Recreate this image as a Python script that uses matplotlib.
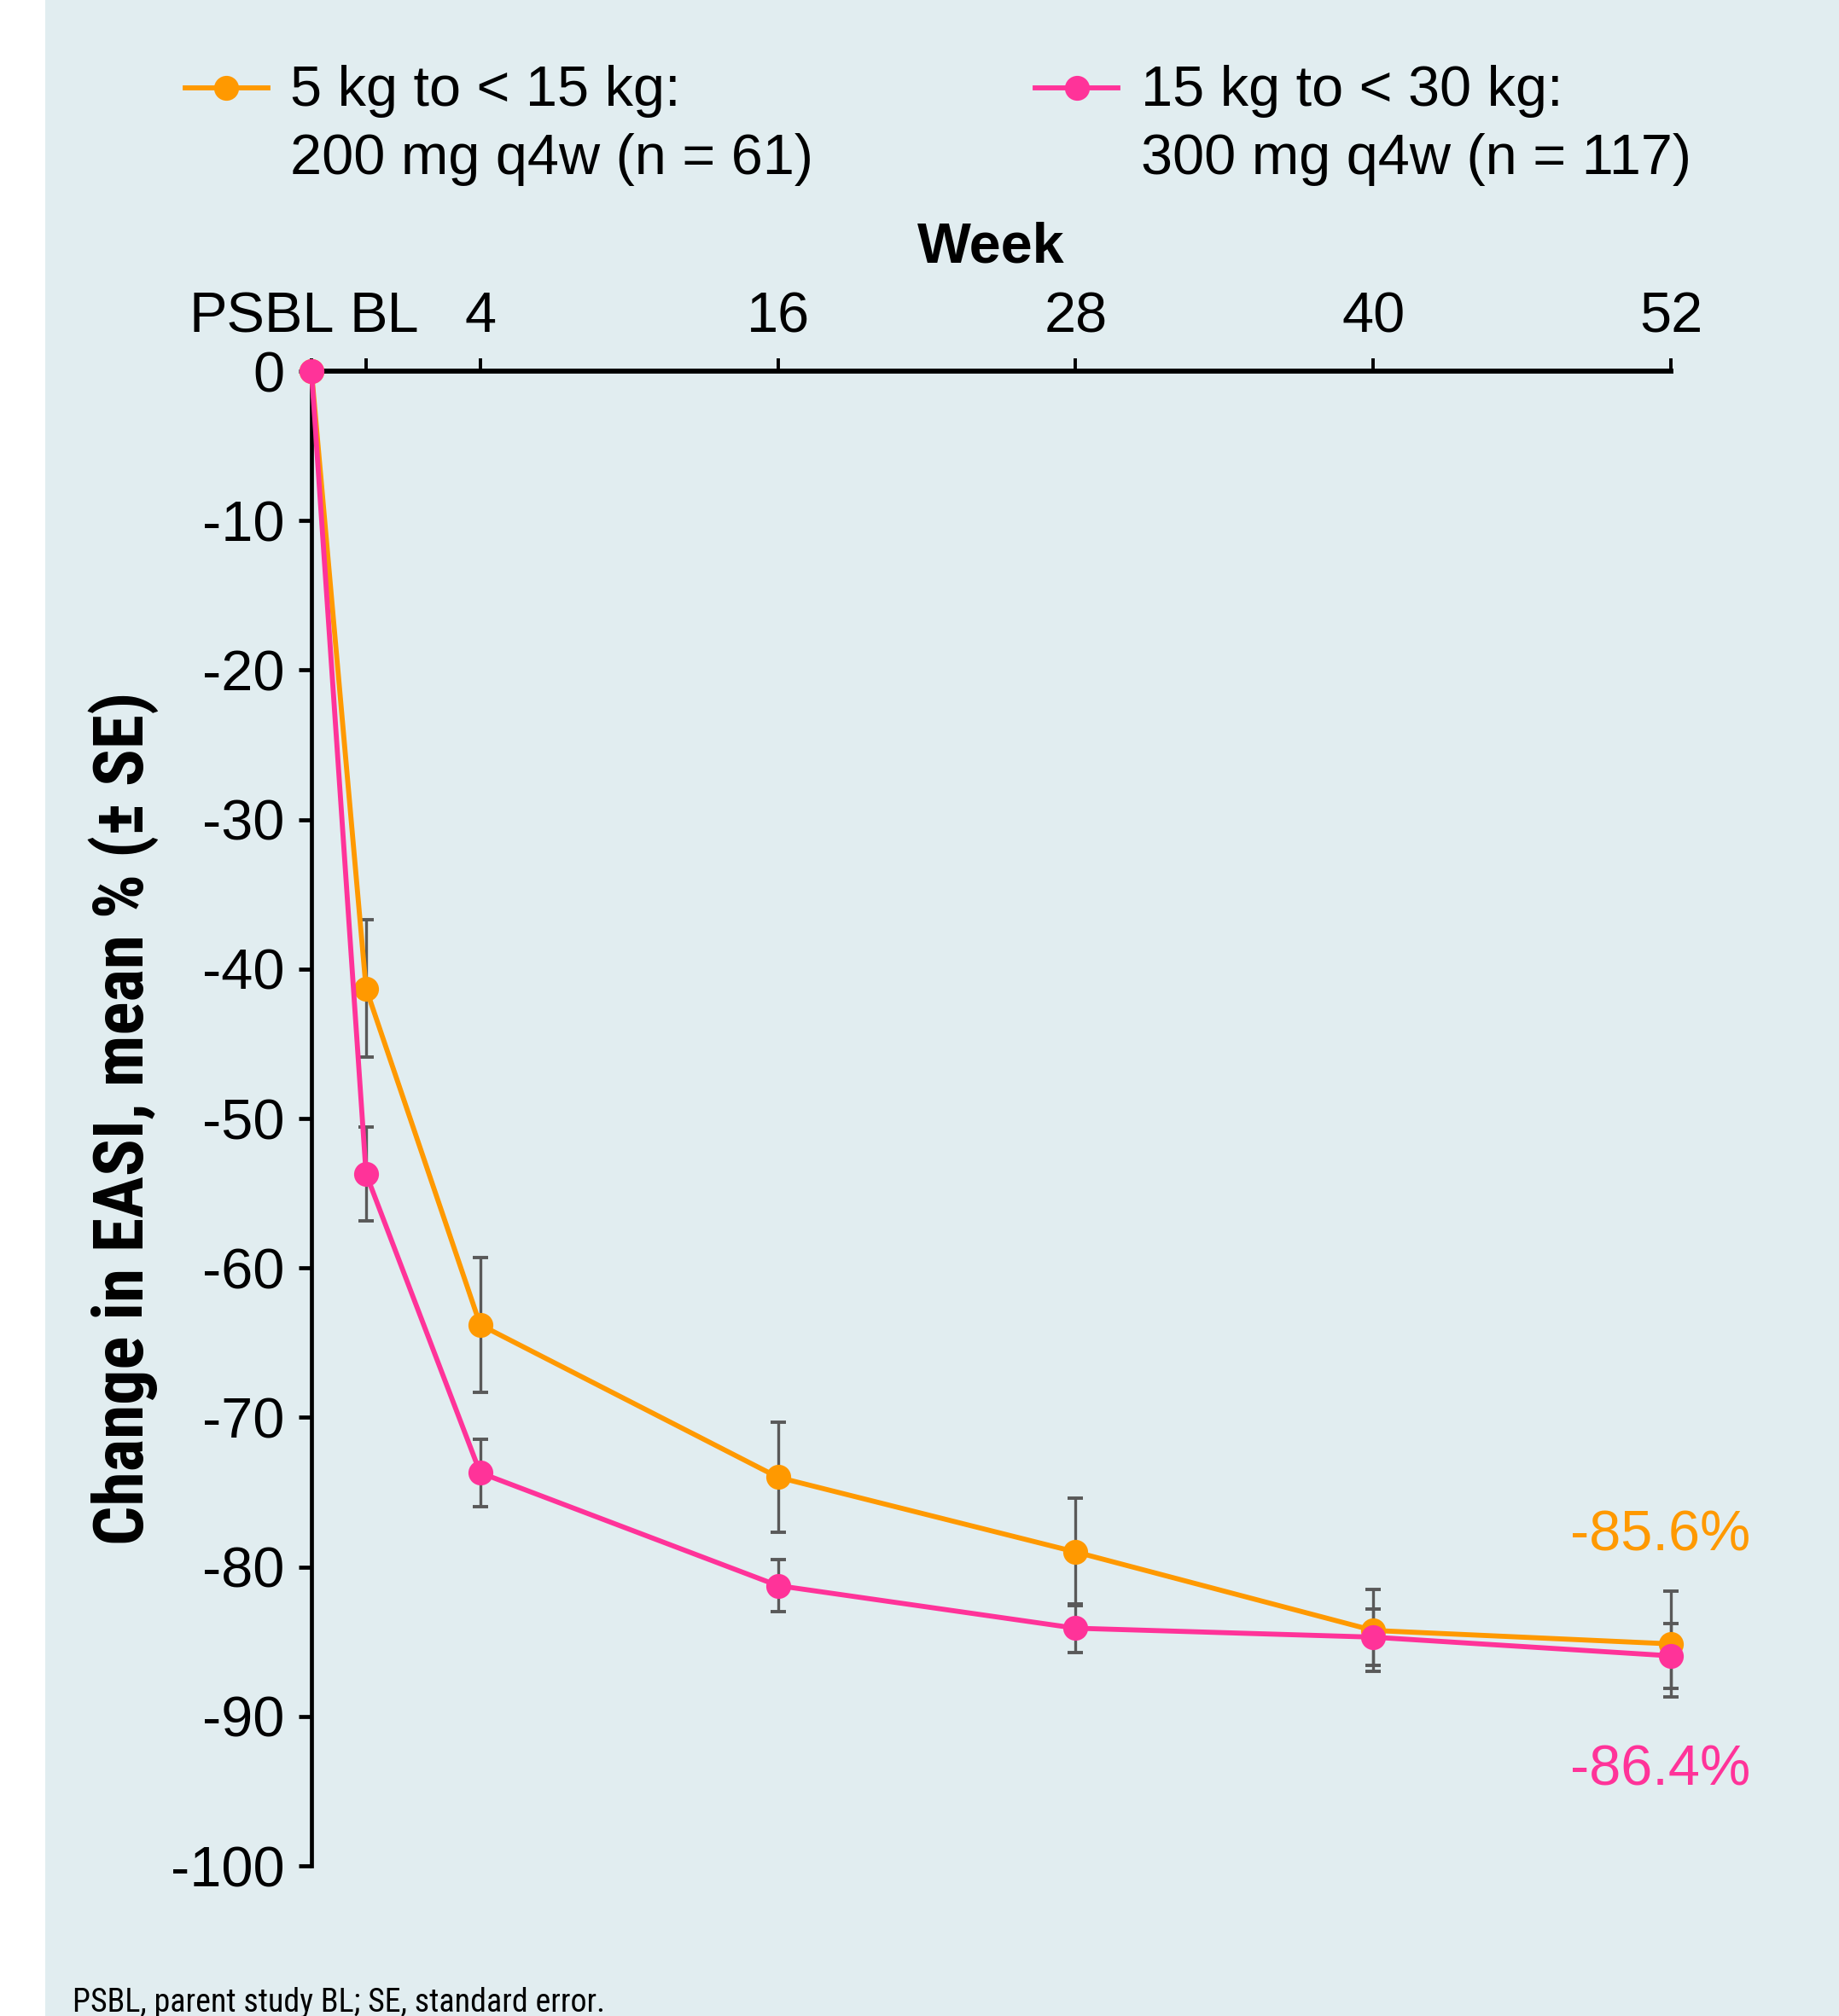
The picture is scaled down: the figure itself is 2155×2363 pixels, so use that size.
import os
import numpy as np
import matplotlib
matplotlib.use("Agg")
import matplotlib.pyplot as plt
from matplotlib import font_manager
from matplotlib.font_manager import FontProperties
from matplotlib.transforms import ScaledTranslation
from matplotlib.patches import Rectangle

# ---------------- data ----------------
tick_labels = ["PSBL", "BL", "4", "16", "28", "40", "52"]
weeks = [-2.8, -0.6, 4, 16, 28, 40, 52]

label_low = "5 kg to < 15 kg:\n200 mg q4w (n = 61)"
mean_low = [0.0, -41.3, -63.8, -74.0, -79.0, -84.25, -85.15]
se_low = [0.0, 4.6, 4.5, 3.7, 3.6, 2.75, 3.55]

label_high = "15 kg to < 30 kg:\n300 mg q4w (n = 117)"
mean_high = [0.0, -53.7, -73.7, -81.25, -84.1, -84.7, -85.95]
se_high = [0.0, 3.15, 2.25, 1.75, 1.65, 1.9, 2.15]

end_low_text = "-85.6%"
end_high_text = "-86.4%"

yticks = [0, -10, -20, -30, -40, -50, -60, -70, -80, -90, -100]

# ---------------- style ----------------
ORANGE = "#FF9900"
PINK = "#FF3399"
BG = "#E1EDF0"
ERR = "#595959"

avail = {f.name for f in font_manager.fontManager.ttflist}
REG = "Liberation Sans" if "Liberation Sans" in avail else "DejaVu Sans"


def find_narrow(bold):
    pref = ["liberation sans narrow", "roboto condensed", "open sans condensed",
            "noto sans condensed", "dejavu sans condensed"]
    best, best_score = None, 99
    for f in font_manager.fontManager.ttflist:
        base = os.path.basename(f.fname).lower()
        name = f.name.lower()
        st = f.stretch
        narrow = ("narrow" in name or "condensed" in name or "narrow" in base
                  or "condensed" in base
                  or st in ("condensed", "semi-condensed", "extra-condensed",
                            "ultra-condensed")
                  or (isinstance(st, (int, float)) and st < 500))
        if not narrow:
            continue
        if "mono" in name or "serif" in name or "mono" in base or "serif" in base:
            continue
        if f.style != "normal" or "italic" in base or "oblique" in base:
            continue
        w = f.weight
        if isinstance(w, str):
            w = {"bold": 700, "heavy": 800, "black": 900, "semibold": 600,
                 "demibold": 600}.get(w, 400)
        is_bold = w >= 600
        if is_bold != bold:
            continue
        if not bold and w < 400:
            continue
        key = name + " " + base
        score = 50
        for i, p in enumerate(pref):
            if p in key or p.replace(" ", "") in key.replace(" ", ""):
                score = i
                break
        if score < best_score:
            best, best_score = f.fname, score
    return best


narrow_reg = find_narrow(False)
narrow_bold = find_narrow(True)

plt.rcParams["font.family"] = [REG, "DejaVu Sans"]
plt.rcParams["axes.unicode_minus"] = False

W, H, DPI = 2155, 2363, 200
fig = plt.figure(figsize=(W / DPI, H / DPI), dpi=DPI, facecolor="white")
fig.patches.append(Rectangle((53 / W, 0), 1 - 53 / W, 1, transform=fig.transFigure,
                             facecolor=BG, edgecolor="none", zorder=-10))

left, right = 365 / W, 1958 / W
top, bottom = 1 - 435 / H, 1 - 2187 / H
ax = fig.add_axes([left, bottom, right - left, top - bottom])
ax.set_facecolor("none")

ax.set_xlim(weeks[0], weeks[-1])
ax.set_ylim(-100, 0)

# error bars (below lines)
for m, s in ((mean_low, se_low), (mean_high, se_high)):
    xs = [w for w, e in zip(weeks, s) if e > 0]
    ys = [v for v, e in zip(m, s) if e > 0]
    es = [e for e in s if e > 0]
    ax.errorbar(xs, ys, yerr=es, fmt="none", ecolor=ERR, elinewidth=1.2,
                capsize=3.3, capthick=1.4, zorder=2, clip_on=False)

ax.plot(weeks, mean_low, color=ORANGE, lw=2.1, marker="o", ms=9.5,
        mec=ORANGE, mfc=ORANGE, label=label_low, zorder=3, clip_on=False)
ax.plot(weeks, mean_high, color=PINK, lw=2.1, marker="o", ms=9.5,
        mec=PINK, mfc=PINK, label=label_high, zorder=4, clip_on=False)

# end annotations
ax.annotate(end_low_text, xy=(weeks[-1], mean_low[-1]), xytext=(-12, 126),
            textcoords="offset pixels", ha="center", va="center",
            fontsize=24, color=ORANGE)
ax.annotate(end_high_text, xy=(weeks[-1], mean_high[-1]), xytext=(-12, -135),
            textcoords="offset pixels", ha="center", va="center",
            fontsize=24, color=PINK)

# spines
for s in ("right", "bottom"):
    ax.spines[s].set_visible(False)
ax.spines["top"].set_linewidth(2.1)
ax.spines["left"].set_linewidth(1.7)
ax.spines["top"].set_capstyle("projecting")

ax.xaxis.set_ticks_position("top")
ax.xaxis.set_label_position("top")
ax.set_xticks(weeks)
ax.set_xticklabels(tick_labels)
ax.set_yticks(yticks)
ax.set_yticklabels([str(v) for v in yticks])
ax.tick_params(axis="x", direction="out", length=5.4, width=1.4, pad=6,
               labelsize=24, colors="black")
ax.tick_params(axis="y", direction="out", length=5.4, width=1.7, pad=6,
               labelsize=24, colors="black")

ax.set_xlabel("Week", fontsize=24, fontweight="bold", labelpad=12)
ylab = "Change in EASI, mean % (\u00b1 SE)"
if narrow_bold:
    ax.set_ylabel(ylab, fontproperties=FontProperties(fname=narrow_bold, size=29.4),
                  labelpad=5)
else:
    ax.set_ylabel(ylab, fontsize=24, fontweight="bold", labelpad=8)

# shift the PSBL / BL tick labels like the original
offs = {0: -58, 1: 21}
for i, t in enumerate(ax.xaxis.get_major_ticks()):
    if i in offs:
        lab = t.label2
        lab.set_transform(lab.get_transform() +
                          ScaledTranslation(offs[i] / DPI, 0, fig.dpi_scale_trans))

leg = fig.legend(loc="upper left", bbox_to_anchor=(217 / W, 1 - 76 / H), ncol=2,
                 frameon=False, fontsize=24, handlelength=1.45, handletextpad=0.4,
                 columnspacing=3.9, borderpad=0, borderaxespad=0)
for t in leg.get_texts():
    t.set_linespacing(1.38)
# align the handles with the first line of each label (shift in points)
for h in leg.legend_handles:
    h.set_ydata(np.asarray(h.get_ydata(), dtype=float) + 16.0)

foot = "PSBL, parent study BL; SE, standard error."
if narrow_reg:
    fig.text(85 / W, 1 - 2347 / H, foot,
             fontproperties=FontProperties(fname=narrow_reg, size=13.7),
             ha="left", va="center")
else:
    fig.text(85 / W, 1 - 2347 / H, foot, fontsize=12, ha="left", va="center")

fig.savefig("out.png", dpi=DPI, facecolor="white")
